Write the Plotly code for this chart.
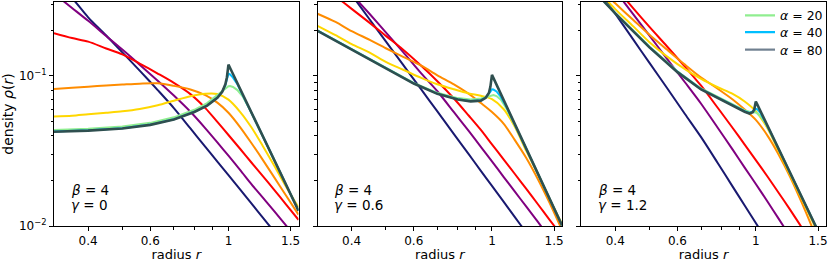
import math
import plotly.graph_objects as go

# ---------------- data ----------------
R_COARSE = [0.32, 0.36, 0.4, 0.45, 0.5, 0.56, 0.63, 0.7, 0.78, 0.86, 0.93, 1.0,
            1.08, 1.16, 1.25, 1.35, 1.45, 1.58]
R_FINE = [0.32, 0.4, 0.5, 0.6, 0.7, 0.8, 0.87, 0.93, 0.96, 0.98, 0.99, 1.0,
          1.01, 1.03, 1.06, 1.1, 1.15, 1.2, 1.3, 1.4, 1.5, 1.58]

GAMMA_LABELS = ["0", "0.6", "1.2"]
BETA_LABEL = "4"
LEGEND_ALPHAS = ["20", "40", "80"]

X_TICKS = [0.4, 0.6, 1, 1.5]
X_TICK_TEXT = ["0.4", "0.6", "1", "1.5"]
X_MINOR = [0.5, 0.7, 0.8, 0.9]
Y_TICKS = [0.01, 0.1]
Y_TICK_TEXT = ["10<sup>−2</sup>", "10<sup>−1</sup>"]
Y_MINOR = [0.02, 0.03, 0.04, 0.05, 0.06, 0.07, 0.08, 0.09, 0.2, 0.3]

# gamma = 0 panel
G0_C1 = [0.418, 0.330, 0.246, 0.186, 0.1436, 0.1086, 0.0805, 0.0611, 0.0447, 0.0337,
         0.0269, 0.0218, 0.01746, 0.01419, 0.01143, 0.00914, 0.00743, 0.00579]
G0_C2 = [0.354, 0.284, 0.233, 0.1846, 0.150, 0.1189, 0.0929, 0.074, 0.0577, 0.0448,
         0.0361, 0.0294, 0.0236, 0.0191, 0.0155, 0.0125, 0.0102, 0.00803]
G0_C3 = [0.193, 0.179, 0.1694, 0.1524, 0.1393, 0.121, 0.1038, 0.0899, 0.0757, 0.0611,
         0.0494, 0.0404, 0.0326, 0.0266, 0.0216, 0.01734, 0.0141, 0.0110]
G0_C4 = [0.0818, 0.0836, 0.0849, 0.0865, 0.0877, 0.0889, 0.0893, 0.0859, 0.0813, 0.0745,
         0.0664, 0.0569, 0.0455, 0.0359, 0.0277, 0.0210, 0.0162, 0.0119]
G0_C5 = [0.0537, 0.0543, 0.0556, 0.0569, 0.0582, 0.0603, 0.0638, 0.0684, 0.0733, 0.0762,
         0.0759, 0.0695, 0.0575, 0.0457, 0.0343, 0.0251, 0.0186, 0.0133]
G0_A20 = [0.0437, 0.0444, 0.046, 0.0487, 0.053, 0.0595, 0.066, 0.0745, 0.079, 0.0825, 0.084,
          0.0855, 0.0857, 0.0845, 0.0805, 0.0725, 0.0595, 0.0486, 0.0329, 0.0229, 0.0163, 0.01265]
G0_A40 = [0.0427, 0.0434, 0.0449, 0.0474, 0.0514, 0.0577, 0.0637, 0.0718, 0.0785, 0.087, 0.095,
          0.1035, 0.1025, 0.0975, 0.088, 0.0740, 0.0598, 0.0487, 0.033, 0.0229, 0.0163, 0.01265]
G0_A80 = [0.0425, 0.0432, 0.0447, 0.0472, 0.0512, 0.0575, 0.0635, 0.0715, 0.0785, 0.088, 0.098,
          0.119, 0.1135, 0.103, 0.0895, 0.0746, 0.0601, 0.0488, 0.033, 0.0229, 0.0163, 0.01265]

# gamma = 0.6 panel
G06_C1 = [0.71, 0.486, 0.3475, 0.238, 0.170, 0.1184, 0.0813, 0.058, 0.0410, 0.030,
          0.0233, 0.0185, 0.0145, 0.0115, 0.00906, 0.00708, 0.00562, 0.00427]
G06_C2 = [0.621, 0.462, 0.351, 0.259, 0.1954, 0.144, 0.104, 0.0791, 0.0574, 0.0429,
          0.0337, 0.0270, 0.0212, 0.0170, 0.0135, 0.01064, 0.0085, 0.00645]
G06_C3 = [0.42, 0.340, 0.280, 0.226, 0.185, 0.1496, 0.1169, 0.0923, 0.0708, 0.0543,
          0.0437, 0.0350, 0.0277, 0.0223, 0.01774, 0.01396, 0.01117, 0.00855]
G06_C4 = [0.26, 0.229, 0.199, 0.174, 0.153, 0.134, 0.117, 0.101, 0.088, 0.076,
          0.066, 0.0575, 0.048, 0.0375, 0.0285, 0.0205, 0.0146, 0.0094]
G06_C5 = [0.216, 0.187, 0.163, 0.143, 0.124, 0.110, 0.097, 0.088, 0.0815, 0.0765,
          0.0738, 0.070, 0.060, 0.046, 0.0318, 0.0222, 0.0155, 0.0103]
G06_A20 = [0.201, 0.151, 0.1128, 0.0900, 0.0772, 0.0712, 0.0697, 0.0708, 0.0722, 0.0735, 0.0742,
           0.0748, 0.0747, 0.0735, 0.0695, 0.0605, 0.0492, 0.0402, 0.0269, 0.0186, 0.01312, 0.0101]
G06_A40 = [0.2005, 0.1505, 0.1123, 0.0893, 0.0763, 0.0700, 0.0680, 0.0690, 0.0718, 0.0755, 0.0785,
           0.0815, 0.0812, 0.0788, 0.0725, 0.0620, 0.0500, 0.0404, 0.0270, 0.0186, 0.01312, 0.0101]
G06_A80 = [0.200, 0.150, 0.112, 0.089, 0.0760, 0.0697, 0.0677, 0.0685, 0.0715, 0.0770, 0.0850,
           0.1016, 0.0967, 0.0876, 0.0757, 0.0628, 0.0502, 0.0405, 0.0270, 0.0186, 0.01312, 0.0101]

# gamma = 1.2 panel
G12_C1 = [0.547, 0.371, 0.260, 0.1746, 0.1222, 0.0834, 0.0558, 0.0391, 0.0263, 0.0183,
          0.0137, 0.01047, 0.00787, 0.00603, 0.00457, 0.00343, 0.00263, 0.00191]
G12_C2 = [0.721, 0.507, 0.370, 0.2574, 0.1858, 0.1306, 0.0908, 0.0653, 0.0452, 0.0323,
          0.0245, 0.01905, 0.0145, 0.0112, 0.00851, 0.00646, 0.00501, 0.00363]
G12_C3 = [0.690, 0.507, 0.387, 0.2825, 0.2123, 0.1578, 0.1153, 0.0861, 0.0614, 0.0450,
          0.0349, 0.0275, 0.0213, 0.01667, 0.01285, 0.00975, 0.0075, 0.0055]
G12_C4 = [0.48, 0.385, 0.305, 0.236, 0.188, 0.150, 0.119, 0.0977, 0.0822, 0.0697,
          0.0598, 0.0510, 0.0399, 0.0300, 0.0213, 0.01426, 0.00955, 0.00575]
G12_C5 = [0.479, 0.363, 0.279, 0.214, 0.168, 0.135, 0.111, 0.0955, 0.0841, 0.0759,
          0.0676, 0.0582, 0.0447, 0.0316, 0.0219, 0.0151, 0.0106, 0.0066]
G12_A20 = [0.46, 0.263, 0.157, 0.1075, 0.0825, 0.0705, 0.0637, 0.0590, 0.0577, 0.0575, 0.0573,
           0.0570, 0.0563, 0.0540, 0.0495, 0.0420, 0.0340, 0.0277, 0.0187, 0.0130, 0.00927, 0.00718]
G12_A40 = [0.458, 0.262, 0.1555, 0.1065, 0.0817, 0.0696, 0.0628, 0.0582, 0.0566, 0.0578, 0.0590,
           0.0605, 0.0600, 0.0568, 0.0503, 0.0423, 0.0341, 0.0277, 0.0187, 0.0130, 0.00927, 0.00718]
G12_A80 = [0.457, 0.261, 0.155, 0.106, 0.0813, 0.0692, 0.0624, 0.0578, 0.0562, 0.0573, 0.0600,
           0.0676, 0.0644, 0.0585, 0.0508, 0.0424, 0.0341, 0.0277, 0.0187, 0.0130, 0.00927, 0.00718]

COARSE_COLORS = ["#191970", "#800080", "#ff0000", "#ff8c00", "#ffd700"]
FINE_COLORS = ["#90ee90", "#00bfff", "#2f4f4f"]
LEGEND_COLORS = ["#90ee90", "#00bfff", "#708090"]

PANELS = [
    ([G0_C1, G0_C2, G0_C3, G0_C4, G0_C5], [G0_A20, G0_A40, G0_A80]),
    ([G06_C1, G06_C2, G06_C3, G06_C4, G06_C5], [G06_A20, G06_A40, G06_A80]),
    ([G12_C1, G12_C2, G12_C3, G12_C4, G12_C5], [G12_A20, G12_A40, G12_A80]),
]

# ---------------- figure ----------------
W, H = 830, 262
ML, MR, MT, MB = 54, 4, 2, 36
PW = W - ML - MR
PH = H - MT - MB
DOMAINS = [
    [0.0, 244.5 / PW],
    [(317.5 - ML) / PW, (562.0 - ML) / PW],
    [(581.0 - ML) / PW, 1.0],
]
FONT = "DejaVu Sans, Arial, sans-serif"

fig = go.Figure()

for i, (coarse, fine) in enumerate(PANELS):
    xa = "x" if i == 0 else f"x{i+1}"
    ya = "y" if i == 0 else f"y{i+1}"
    for vals, col in zip(coarse, COARSE_COLORS):
        fig.add_trace(go.Scatter(
            x=R_COARSE, y=vals, mode="lines", xaxis=xa, yaxis=ya,
            line=dict(color=col, width=2, shape="spline", smoothing=0.8),
            showlegend=False, hoverinfo="skip"))
    for j, (vals, col) in enumerate(zip(fine, FINE_COLORS)):
        fig.add_trace(go.Scatter(
            x=R_FINE, y=vals, mode="lines", xaxis=xa, yaxis=ya,
            line=dict(color=col, width=2.6 if j == 2 else 2),
            showlegend=False, hoverinfo="skip"))

# legend entries (panel 3), one small legend per row to match row spacing
LEGEND_ROWS_PX = [15.7, 32.5, 50.0]
legend_layouts = {}
for k, (a, col) in enumerate(zip(LEGEND_ALPHAS, LEGEND_COLORS)):
    lname = "legend" if k == 0 else f"legend{k+1}"
    fig.add_trace(go.Scatter(
        x=[None], y=[None], mode="lines", xaxis="x3", yaxis="y3",
        line=dict(color=col, width=2.2),
        name=f"<i>α</i> = {a}", showlegend=True, legend=lname))
    legend_layouts[lname] = dict(
        x=(740 - ML) / PW, y=(MT + PH - LEGEND_ROWS_PX[k]) / PH,
        xanchor="left", yanchor="middle",
        bgcolor="rgba(0,0,0,0)", borderwidth=0, itemwidth=30,
        font=dict(family=FONT, size=12.5, color="#000"))

axis_common = dict(
    showline=True, mirror=True, linecolor="#000", linewidth=1,
    showgrid=False, zeroline=False, ticks="outside", ticklen=4,
    tickwidth=1, tickcolor="#000", automargin=False,
    tickfont=dict(family=FONT, size=12, color="#000"),
)
TITLE_FONT = dict(family=FONT, size=13, color="#000")

for i in range(3):
    sfx = "" if i == 0 else str(i + 1)
    xdict = dict(
        axis_common, type="log", domain=DOMAINS[i],
        range=[math.log10(0.32), math.log10(1.58)],
        tickmode="array", tickvals=X_TICKS, ticktext=X_TICK_TEXT,
        minor=dict(tickmode="array", tickvals=X_MINOR, ticks="outside",
                   ticklen=2.5, tickcolor="#000", tickwidth=1, showgrid=False),
        anchor="y" if i == 0 else f"y{i+1}",
        title=dict(text="radius <i>r</i>", font=TITLE_FONT),
    )
    ydict = dict(
        axis_common, type="log", domain=[0, 1],
        range=[-2, -0.507],
        tickmode="array", tickvals=Y_TICKS, ticktext=Y_TICK_TEXT,
        showticklabels=(i == 0),
        minor=dict(tickmode="array", tickvals=Y_MINOR, ticks="outside",
                   ticklen=2.5, tickcolor="#000", tickwidth=1, showgrid=False),
        anchor="x" if i == 0 else f"x{i+1}",
    )
    if i == 0:
        ydict["title"] = dict(text="density <i>ρ</i>(<i>r</i>)",
                              font=dict(family=FONT, size=14, color="#000"))
    fig.update_layout(**{f"xaxis{sfx}": xdict, f"yaxis{sfx}": ydict})

annotations = []
for i, g in enumerate(GAMMA_LABELS):
    xr = "x domain" if i == 0 else f"x{i+1} domain"
    yr = "y domain" if i == 0 else f"y{i+1} domain"
    annotations.append(dict(
        x=0.06, y=(MT + PH - 190) / PH, xref=xr, yref=yr, xanchor="left", yanchor="middle",
        text=f"<i>β</i> = {BETA_LABEL}", showarrow=False,
        font=dict(family=FONT, size=13.5, color="#000")))
    annotations.append(dict(
        x=0.06, y=(MT + PH - 205) / PH, xref=xr, yref=yr, xanchor="left", yanchor="middle",
        text=f"<i>γ</i> = {g}", showarrow=False,
        font=dict(family=FONT, size=13.5, color="#000")))

fig.update_layout(
    width=W, height=H,
    margin=dict(l=ML, r=MR, t=MT, b=MB, autoexpand=False),
    paper_bgcolor="white", plot_bgcolor="white",
    font=dict(family=FONT, size=12, color="#000"),
    annotations=annotations,
    showlegend=True,
    **legend_layouts,
)

fig.write_html(
    "out.html",
    config={"displayModeBar": False, "staticPlot": True},
    post_script="document.body.style.margin='0';document.body.style.padding='0';",
)
